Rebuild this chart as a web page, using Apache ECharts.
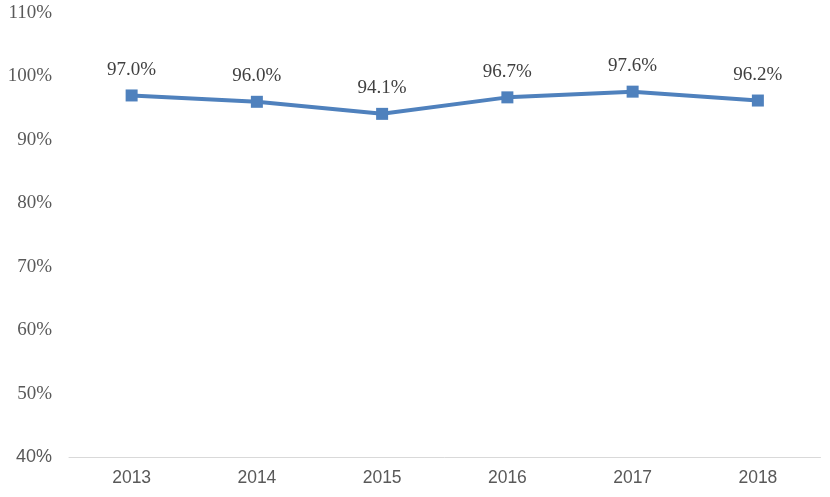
<!DOCTYPE html>
<html>
<head>
<meta charset="utf-8">
<script src="https://cdn.jsdelivr.net/npm/echarts@6/dist/echarts.min.js"></script>
<style>html,body{margin:0;padding:0;background:#fff;}#c{width:830px;height:497px;}</style>
</head>
<body>
<div id="c"></div>
<script>
var categories = ['2013', '2014', '2015', '2016', '2017', '2018'];
var values = [97.0, 96.0, 94.1, 96.7, 97.6, 96.2];
var yMin = 40, yMax = 110, yStep = 10;

var chart = echarts.init(document.getElementById('c'), null, {renderer: 'canvas'});
chart.setOption({
  animation: false,
  grid: {left: 69, right: 9.5, top: 13, bottom: 40},
  xAxis: {
    type: 'category',
    data: categories,
    axisLine: {lineStyle: {color: '#d9d9d9', width: 1}},
    axisTick: {show: false},
    axisLabel: {color: '#595959', fontFamily: 'Liberation Sans', fontSize: 17.5, margin: 12}
  },
  yAxis: {
    type: 'value',
    min: yMin, max: yMax, interval: yStep,
    splitLine: {show: false},
    axisLine: {show: false},
    axisTick: {show: false},
    axisLabel: {
      margin: 17,
      formatter: function (v) { return v === yMin ? '{s|' + v + '%}' : '{t|' + v + '%}'; },
      rich: {
        t: {color: '#595959', fontFamily: 'Liberation Serif', fontSize: 19},
        s: {color: '#595959', fontFamily: 'Liberation Sans', fontSize: 18}
      }
    }
  },
  series: [{
    type: 'line',
    data: values,
    symbol: 'rect',
    symbolSize: 12,
    lineStyle: {color: '#4f81bd', width: 4},
    itemStyle: {color: '#4f81bd'},
    label: {
      show: true,
      position: 'top',
      distance: 10,
      color: '#404040',
      fontFamily: 'Liberation Serif',
      fontSize: 19,
      formatter: function (p) { return p.value.toFixed(1) + '%'; }
    }
  }]
});
</script>
</body>
</html>
